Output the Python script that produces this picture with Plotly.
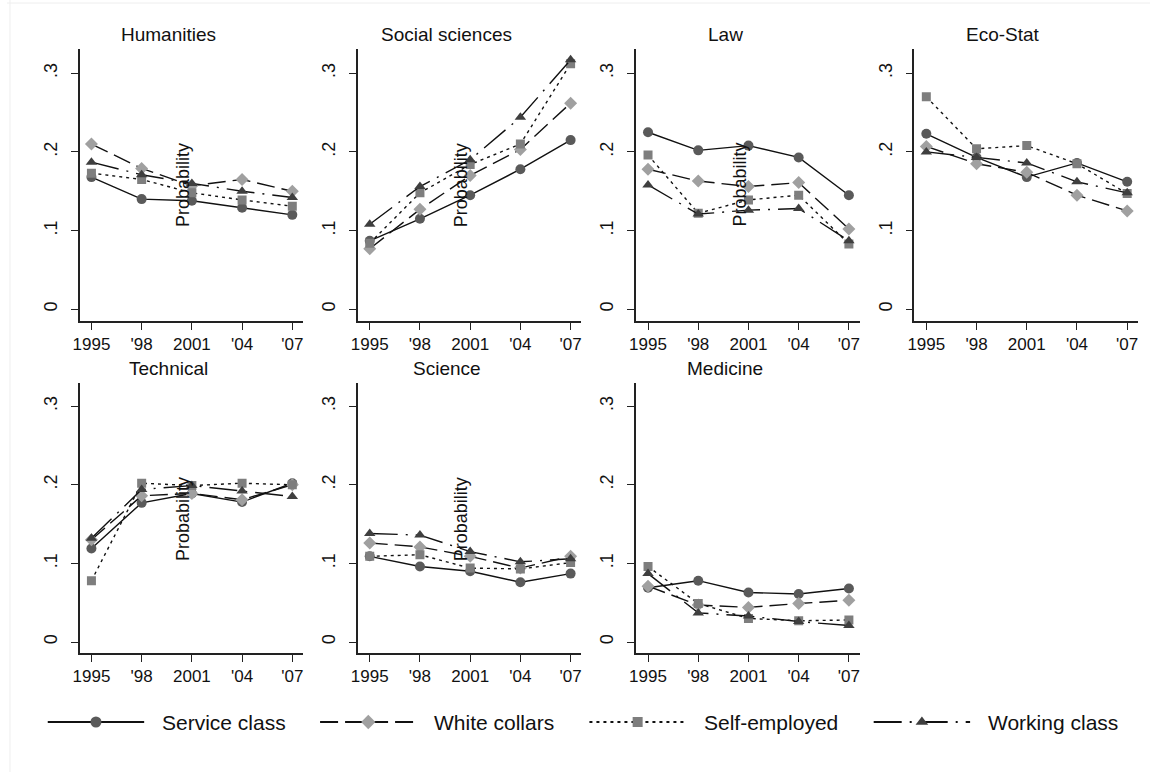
import plotly.graph_objects as go

# ---------------- data ----------------
years = [1995, 1998, 2001, 2004, 2007]
year_labels = ["1995", "'98", "2001", "'04", "'07"]
y_ticks = [0, 0.1, 0.2, 0.3]
y_tick_labels = ["0", ".1", ".2", ".3"]
fields = ["Humanities", "Social sciences", "Law", "Eco-Stat",
          "Technical", "Science", "Medicine"]
show_ytitle = [True, True, True, False, True, True, False]

classes = ["Service class", "White collars", "Self-employed", "Working class"]

# rows follow the order of `fields`
service_class = [
    [0.168, 0.140, 0.138, 0.129, 0.120],
    [0.087, 0.115, 0.145, 0.178, 0.215],
    [0.225, 0.202, 0.208, 0.193, 0.145],
    [0.223, 0.193, 0.168, 0.186, 0.162],
    [0.119, 0.177, 0.189, 0.178, 0.202],
    [0.109, 0.096, 0.090, 0.076, 0.087],
    [0.069, 0.078, 0.063, 0.061, 0.068],
]
white_collars = [
    [0.210, 0.179, 0.157, 0.165, 0.150],
    [0.077, 0.127, 0.170, 0.203, 0.262],
    [0.178, 0.163, 0.156, 0.161, 0.102],
    [0.207, 0.185, 0.174, 0.145, 0.125],
    [0.130, 0.186, 0.189, 0.181, 0.200],
    [0.126, 0.121, 0.109, 0.094, 0.109],
    [0.071, 0.047, 0.044, 0.049, 0.053],
]
self_employed = [
    [0.173, 0.165, 0.148, 0.139, 0.131],
    [0.084, 0.148, 0.184, 0.210, 0.312],
    [0.196, 0.122, 0.139, 0.145, 0.083],
    [0.270, 0.204, 0.208, 0.185, 0.147],
    [0.078, 0.202, 0.199, 0.202, 0.200],
    [0.109, 0.111, 0.094, 0.093, 0.101],
    [0.096, 0.049, 0.030, 0.027, 0.028],
]
working_class = [
    [0.187, 0.171, 0.160, 0.150, 0.142],
    [0.108, 0.156, 0.190, 0.244, 0.317],
    [0.158, 0.121, 0.126, 0.128, 0.087],
    [0.200, 0.193, 0.186, 0.162, 0.148],
    [0.132, 0.194, 0.199, 0.192, 0.185],
    [0.138, 0.136, 0.115, 0.102, 0.106],
    [0.087, 0.037, 0.033, 0.026, 0.021],
]
series_values = [service_class, white_collars, self_employed, working_class]

# ---------------- styles ----------------
FONT = "Liberation Sans, Arial, sans-serif"
W, H = 1150, 772
line_color = "#111111"
dashes = ["solid", "18px,7px", "3px,4px", "28px,8px,2px,8px"]
marker_symbols = ["circle", "diamond", "square", "triangle-up"]
marker_colors = ["#5a5a5a", "#a0a0a0", "#7e7e7e", "#3f3f3f"]
marker_sizes = [10, 10, 9, 10]
axis_color = "#222222"

col_left = [73, 353, 633, 913]
plot_w = 225
row_top = [49, 383]
row_bot = [321, 653]
y_ranges = [[-0.0149, 0.3308], [-0.014, 0.3295]]
x_range = [1994.29, 2007.65]

fig = go.Figure()
annotations = []

for i, field in enumerate(fields):
    r, c = divmod(i, 4)
    L = col_left[c]
    xa = "x" if i == 0 else f"x{i+1}"
    ya = "y" if i == 0 else f"y{i+1}"
    xkey = "xaxis" if i == 0 else f"xaxis{i+1}"
    ykey = "yaxis" if i == 0 else f"yaxis{i+1}"
    for k in range(4):
        fig.add_trace(go.Scatter(
            x=years, y=series_values[k][i], xaxis=xa, yaxis=ya,
            mode="lines+markers", showlegend=False, name=classes[k],
            line=dict(color=line_color, width=1.4, dash=dashes[k]),
            marker=dict(symbol=marker_symbols[k], color=marker_colors[k],
                        size=marker_sizes[k], line=dict(width=0)),
        ))
    fig.update_layout({
        xkey: dict(domain=[L / W, (L + plot_w) / W], anchor=ya,
                   range=x_range, tickvals=years, ticktext=year_labels,
                   showline=True, linecolor=axis_color, linewidth=1.5,
                   ticks="outside", ticklen=7, tickcolor=axis_color,
                   tickwidth=1.2, showgrid=False, zeroline=False,
                   tickfont=dict(family=FONT, size=17, color="#111")),
        ykey: dict(domain=[1 - row_bot[r] / H, 1 - row_top[r] / H], anchor=xa,
                   range=y_ranges[r], tickvals=y_ticks, ticktext=y_tick_labels,
                   tickangle=-90, ticklabelstandoff=7,
                   showline=True, linecolor=axis_color, linewidth=1.5,
                   ticks="outside", ticklen=7, tickcolor=axis_color,
                   tickwidth=1.2, showgrid=False, zeroline=False,
                   tickfont=dict(family=FONT, size=18, color="#111")),
    })
    # panel title
    annotations.append(dict(
        text=field, xref="paper", yref="paper",
        x=(L + 89.5) / W, y=1 - (row_top[r] - 14.5) / H,
        xanchor="center", yanchor="middle", showarrow=False,
        font=dict(family=FONT, size=19, color="#111")))
    if show_ytitle[i]:
        annotations.append(dict(
            text="Probability", xref="paper", yref="paper",
            x=(L + 104) / W, y=1 - (row_top[r] + 136) / H,
            xanchor="center", yanchor="middle", showarrow=False,
            textangle=-90,
            font=dict(family=FONT, size=18, color="#111")))

# ---------------- legend (drawn on its own hidden axis) ----------------
legend_start = [41, 315, 586, 872]
sample_w = 97
text_gap = 16
for k in range(4):
    x0 = legend_start[k]
    fig.add_trace(go.Scatter(
        x=[x0, x0 + sample_w], y=[0.5, 0.5], xaxis="x8", yaxis="y8",
        mode="lines", showlegend=False, hoverinfo="skip",
        line=dict(color=line_color, width=2, dash=dashes[k])))
    fig.add_trace(go.Scatter(
        x=[x0 + sample_w / 2], y=[0.5], xaxis="x8", yaxis="y8",
        mode="markers", showlegend=False, hoverinfo="skip",
        marker=dict(symbol=marker_symbols[k], color=marker_colors[k],
                    size=marker_sizes[k] + 1, line=dict(width=0))))
    annotations.append(dict(
        text=classes[k], xref="x8", yref="y8",
        x=x0 + sample_w + text_gap, y=0.5, xanchor="left", yanchor="middle",
        showarrow=False, font=dict(family=FONT, size=21, color="#111")))

fig.update_layout(
    xaxis8=dict(domain=[0, 1], range=[0, W], visible=False, anchor="y8",
                fixedrange=True),
    yaxis8=dict(domain=[1 - 745 / H, 1 - 699 / H], range=[0, 1],
                visible=False, anchor="x8", fixedrange=True),
)

fig.update_layout(
    width=W, height=H,
    margin=dict(l=0, r=0, t=0, b=0),
    paper_bgcolor="white", plot_bgcolor="white",
    annotations=annotations,
    shapes=[
        dict(type="line", xref="paper", yref="paper",
             x0=0, x1=1, y0=1 - 3 / H, y1=1 - 3 / H,
             line=dict(color="#eeeeee", width=1)),
        dict(type="line", xref="paper", yref="paper",
             x0=3 / W, x1=3 / W, y0=0, y1=1,
             line=dict(color="#eeeeee", width=1)),
    ],
    showlegend=False,
)

fig.write_html("out.html")
